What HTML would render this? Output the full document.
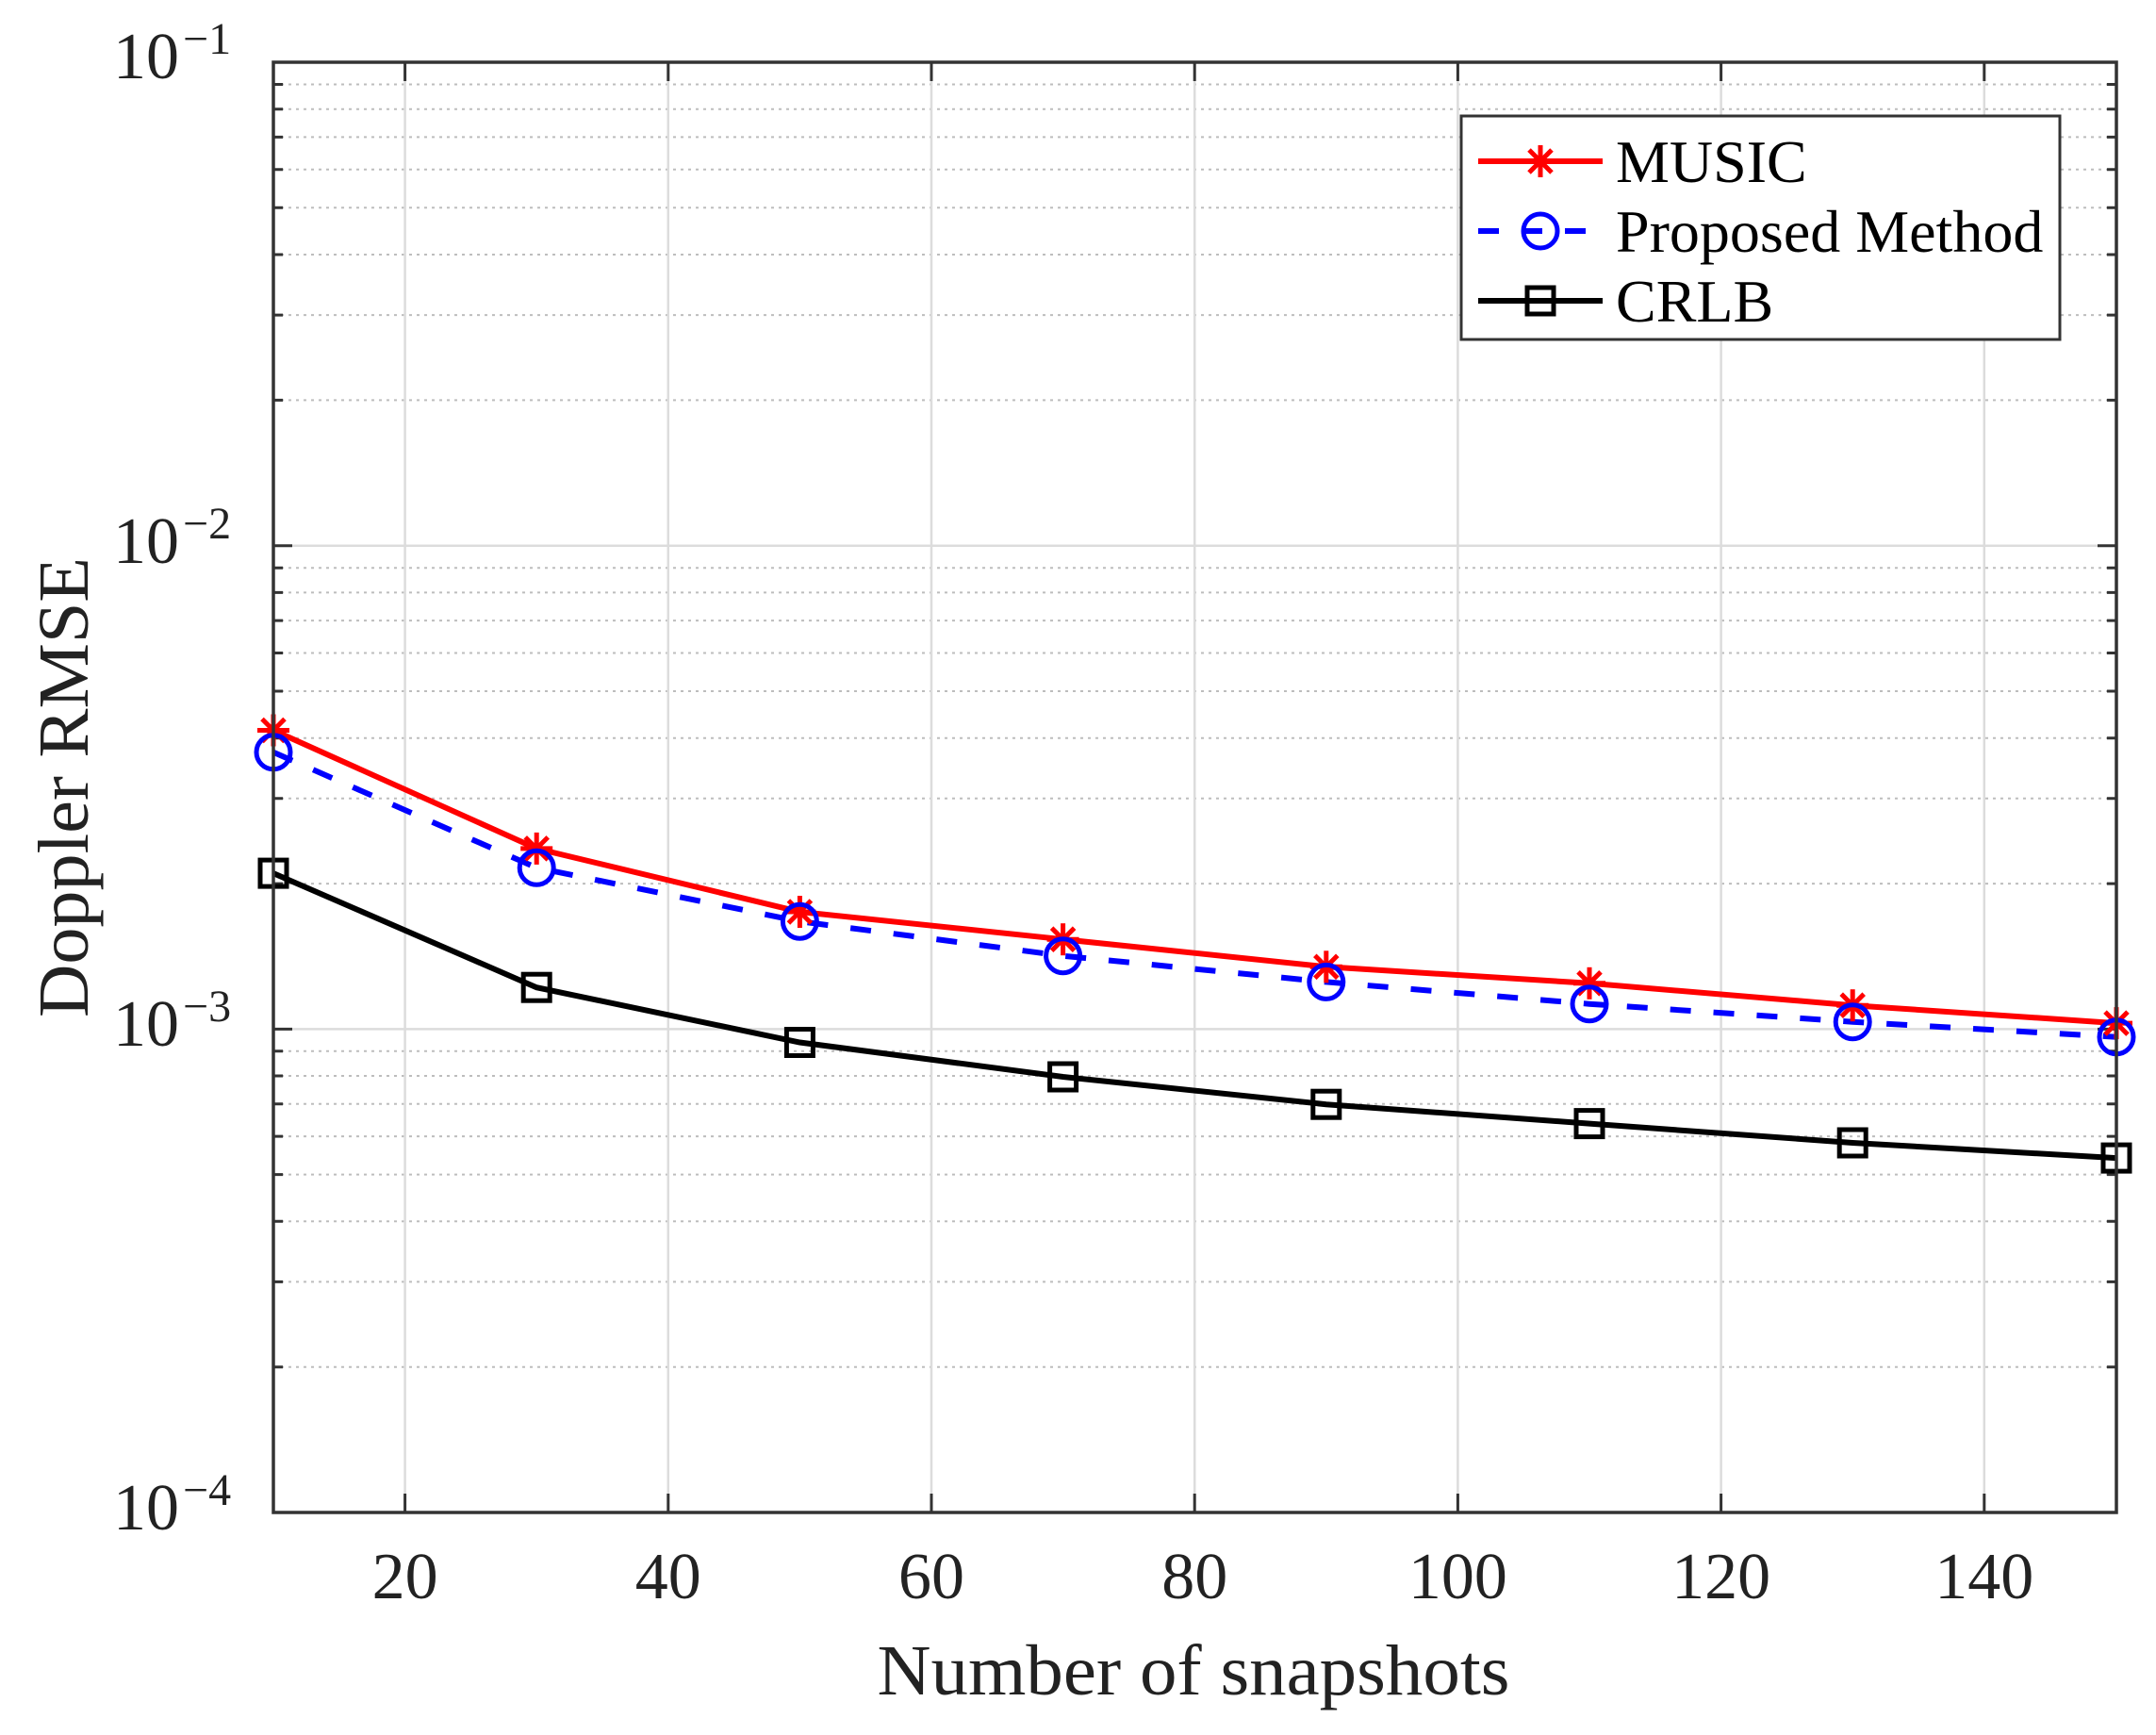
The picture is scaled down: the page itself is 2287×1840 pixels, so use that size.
<!DOCTYPE html>
<html><head><meta charset="utf-8"><style>html,body{margin:0;padding:0;background:#fff}svg{display:block}</style></head>
<body>
<svg width="2287" height="1840" viewBox="0 0 2287 1840" xmlns="http://www.w3.org/2000/svg" font-family="'Liberation Serif', serif">
<defs>
<g id="star" stroke="#ff0000" stroke-width="5" fill="none"><line x1="0" y1="-17" x2="0" y2="17"/><line x1="-17" y1="0" x2="17" y2="0"/><line x1="-12" y1="-12" x2="12" y2="12"/><line x1="-12" y1="12" x2="12" y2="-12"/></g>
<g id="circ"><circle r="18" stroke="#0000ff" stroke-width="5" fill="none"/></g>
<g id="sq"><rect x="-14" y="-14" width="28" height="28" stroke="#000" stroke-width="5" fill="none"/></g>
</defs>
<rect width="2287" height="1840" fill="#fff"/>
<path stroke="#bdbdbd" stroke-width="2" stroke-dasharray="3,5" fill="none" d="
M290 1449.7H2245M290 1359.4H2245M290 1295.3H2245M290 1245.6H2245M290 1205.1H2245M290 1170.7H2245M290 1141H2245M290 1114.8H2245
M290 937.1H2245M290 846.8H2245M290 782.7H2245M290 733H2245M290 692.5H2245M290 658.1H2245M290 628.4H2245M290 602.2H2245
M290 424.4H2245M290 334.1H2245M290 270H2245M290 220.3H2245M290 179.8H2245M290 145.4H2245M290 115.7H2245M290 89.5H2245"/>
<path stroke="#dcdcdc" stroke-width="2.5" fill="none" d="M290 578.7H2245M290 1091.4H2245
M429.6 66V1604M708.8 66V1604M988 66V1604M1267.2 66V1604M1546.4 66V1604M1825.6 66V1604M2104.8 66V1604"/>
<path stroke="#333" stroke-width="3" fill="none" d="
M290 1449.7h10M290 1359.4h10M290 1295.3h10M290 1245.6h10M290 1205.1h10M290 1170.7h10M290 1141h10M290 1114.8h10
M290 937.1h10M290 846.8h10M290 782.7h10M290 733h10M290 692.5h10M290 658.1h10M290 628.4h10M290 602.2h10
M290 424.4h10M290 334.1h10M290 270h10M290 220.3h10M290 179.8h10M290 145.4h10M290 115.7h10M290 89.5h10
M2245 1449.7h-10M2245 1359.4h-10M2245 1295.3h-10M2245 1245.6h-10M2245 1205.1h-10M2245 1170.7h-10M2245 1141h-10M2245 1114.8h-10
M2245 937.1h-10M2245 846.8h-10M2245 782.7h-10M2245 733h-10M2245 692.5h-10M2245 658.1h-10M2245 628.4h-10M2245 602.2h-10
M2245 424.4h-10M2245 334.1h-10M2245 270h-10M2245 220.3h-10M2245 179.8h-10M2245 145.4h-10M2245 115.7h-10M2245 89.5h-10
M290 578.7h20M290 1091.4h20M2245 578.7h-20M2245 1091.4h-20
M429.6 1604v-20M708.8 1604v-20M988 1604v-20M1267.2 1604v-20M1546.4 1604v-20M1825.6 1604v-20M2104.8 1604v-20
M429.6 66v20M708.8 66v20M988 66v20M1267.2 66v20M1546.4 66v20M1825.6 66v20M2104.8 66v20"/>
<polyline fill="none" stroke="#000" stroke-width="6" points="290,926.1 569.2,1047.2 848.4,1105.5 1127.6,1142 1406.8,1171.2 1686,1191.6 1965.2,1212 2245,1228.1"/>
<polyline fill="none" stroke="#ff0000" stroke-width="6" points="290,774.5 569.2,899.9 848.4,967 1127.6,996.2 1406.8,1025.3 1686,1042.8 1965.2,1066.2 2245,1085.1"/>
<polyline fill="none" stroke="#0000ff" stroke-width="6" stroke-dasharray="22,24" points="290,797.8 569.2,920.3 848.4,977.2 1127.6,1013.7 1406.8,1041.4 1686,1064.7 1965.2,1083.7 2245,1099.7"/>
<use href="#sq" x="290" y="926.1"/><use href="#sq" x="569.2" y="1047.2"/><use href="#sq" x="848.4" y="1105.5"/><use href="#sq" x="1127.6" y="1142"/><use href="#sq" x="1406.8" y="1171.2"/><use href="#sq" x="1686" y="1191.6"/><use href="#sq" x="1965.2" y="1212"/><use href="#sq" x="2245" y="1228.1"/>
<use href="#star" x="290" y="774.5"/><use href="#star" x="569.2" y="899.9"/><use href="#star" x="848.4" y="967"/><use href="#star" x="1127.6" y="996.2"/><use href="#star" x="1406.8" y="1025.3"/><use href="#star" x="1686" y="1042.8"/><use href="#star" x="1965.2" y="1066.2"/><use href="#star" x="2245" y="1085.1"/>
<use href="#circ" x="290" y="797.8"/><use href="#circ" x="569.2" y="920.3"/><use href="#circ" x="848.4" y="977.2"/><use href="#circ" x="1127.6" y="1013.7"/><use href="#circ" x="1406.8" y="1041.4"/><use href="#circ" x="1686" y="1064.7"/><use href="#circ" x="1965.2" y="1083.7"/><use href="#circ" x="2245" y="1099.7"/>
<rect x="290" y="66" width="1955" height="1538" fill="none" stroke="#333" stroke-width="3.5"/>
<rect x="1550" y="123" width="635" height="237" fill="#fff" stroke="#333" stroke-width="3"/>
<line x1="1568" y1="171" x2="1700" y2="171" stroke="#ff0000" stroke-width="6"/><use href="#star" x="1634" y="171"/>
<line x1="1568" y1="245" x2="1700" y2="245" stroke="#0000ff" stroke-width="6" stroke-dasharray="22,24"/><use href="#circ" x="1634" y="245"/>
<line x1="1568" y1="319" x2="1700" y2="319" stroke="#000" stroke-width="6"/><use href="#sq" x="1634" y="319"/>
<g font-size="64" fill="#000">
<text x="1714" y="193">MUSIC</text>
<text x="1714" y="267">Proposed Method</text>
<text x="1714" y="341">CRLB</text>
</g>
<g font-size="70" fill="#222" text-anchor="middle">
<text x="429.6" y="1695">20</text><text x="708.8" y="1695">40</text><text x="988" y="1695">60</text><text x="1267.2" y="1695">80</text><text x="1546.4" y="1695">100</text><text x="1825.6" y="1695">120</text><text x="2104.8" y="1695">140</text>
</g>
<g font-size="70" fill="#222">
<text x="190" y="83" text-anchor="end">10</text><text x="194" y="57" font-size="48">−1</text>
<text x="190" y="597" text-anchor="end">10</text><text x="194" y="571" font-size="48">−2</text>
<text x="190" y="1109" text-anchor="end">10</text><text x="194" y="1083" font-size="48">−3</text>
<text x="190" y="1622" text-anchor="end">10</text><text x="194" y="1596" font-size="48">−4</text>
</g>
<text x="1266" y="1797" font-size="76" text-anchor="middle" fill="#222" textLength="671" lengthAdjust="spacingAndGlyphs">Number of snapshots</text>
<text transform="translate(93,835) rotate(-90)" font-size="76" text-anchor="middle" fill="#222" textLength="488" lengthAdjust="spacingAndGlyphs">Doppler RMSE</text>
</svg>
</body></html>
